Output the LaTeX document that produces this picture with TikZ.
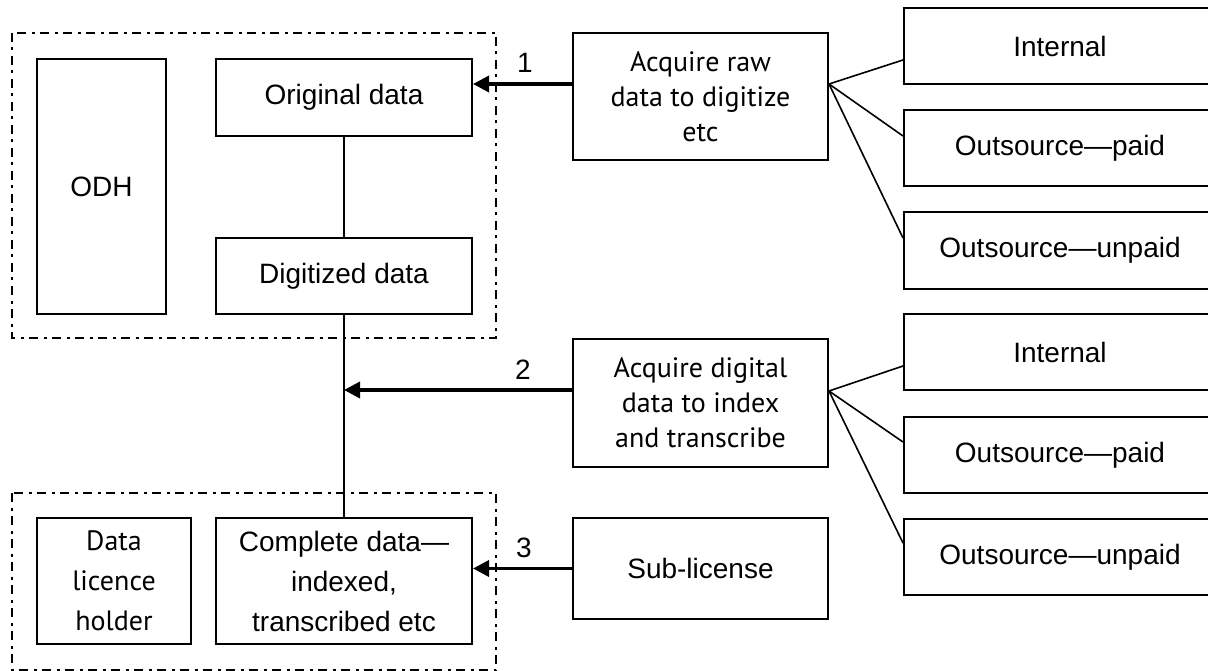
\documentclass[tikz,border=0pt]{standalone}
\usepackage{fontspec}
\setmainfont{Liberation Sans}
\newfontfamily\myrfont{PT Sans}
\usetikzlibrary{arrows.meta}
\newcommand\fArial{\fontsize{28}{40}\selectfont}
\newcommand\fMyr{\myrfont\fontsize{28}{35}\selectfont}
\tikzset{
  box/.style={draw, line width=2pt, inner sep=0pt, align=center, font=\fArial},
  mbox/.style={box, font=\fMyr},
  rbox/.style={box, minimum width=312pt, minimum height=76pt},
  group/.style={line width=2.8pt, dash pattern=on 9pt off 5.5pt on 3pt off 5.5pt},
  link/.style={line width=1.6pt},
  feed/.style={line width=3.5pt, -{Triangle[length=16pt,width=16pt]}},
  lbl/.style={font=\fArial, inner sep=0pt}
}
\begin{document}
\begin{tikzpicture}[x=1pt,y=-1pt]
\useasboundingbox (0,0) rectangle (1208,671);
\clip (0,0) rectangle (1208,671);
% groups
\draw[group] (12,33) rectangle (496,338);
\draw[group] (12,493) rectangle (496,670);
% left boxes
\node[box, minimum width=129pt, minimum height=255pt] (odh) at (101.5,186.5) {ODH};
\node[box, minimum width=256pt, minimum height=77pt] (orig) at (344,97.5) {Original data};
\node[box, minimum width=256pt, minimum height=76pt] (dig) at (344,276) {Digitized data};
\node[mbox, minimum width=154pt, minimum height=126pt, font={\myrfont\fontsize{28}{40}\selectfont}] (dlh) at (114,581) {Data\\licence\\holder};
\node[box, minimum width=256pt, minimum height=126pt] (comp) at (344,581) {Complete data—\\indexed,\\transcribed etc};
% middle boxes
\node[mbox, minimum width=255pt, minimum height=127pt] (acq1) at (700.5,96.5) {Acquire raw\\data to digitize\\etc};
\node[mbox, minimum width=255pt, minimum height=128pt] (acq2) at (700.5,403) {Acquire digital\\data to index\\and transcribe};
\node[box, minimum width=255pt, minimum height=101pt] (sub) at (700.5,568.5) {Sub-license};
% right boxes
\node[rbox] (int1) at (1060,46.5) {Internal};
\node[rbox] (paid1) at (1060,148) {Outsource—paid};
\node[rbox, minimum height=77pt] (unp1) at (1060,250.5) {Outsource—unpaid};
\node[rbox] (int2) at (1060,352) {Internal};
\node[rbox] (paid2) at (1060,455) {Outsource—paid};
\node[rbox] (unp2) at (1060,557) {Outsource—unpaid};
% vertical chain
\draw[link] (orig.south) -- (dig.north);
\draw[link] (dig.south) -- (comp.north);
% feeds
\coordinate (s1) at ([yshift=12.5pt]acq1.west);
\coordinate (s2) at ([yshift=13pt]acq2.west);
\draw[feed] (s1) -- (orig.east |- s1);
\draw[feed] (s2) -- (dig.south |- s2);
\draw[feed] (sub.west) -- (comp.east |- sub.west);
\node[lbl] (l1) at (525,63) {1};
\node[lbl] (l2) at (523,370) {2};
\node[lbl] (l3) at (524,548) {3};
% fans
\coordinate (o1) at ([yshift=12.5pt]acq1.east);
\coordinate (o2) at ([yshift=12pt]acq2.east);
\draw[link] (o1) -- ([yshift=-13.5pt]int1.west);
\draw[link] (o1) -- ([yshift=12pt]paid1.west);
\draw[link] (o1) -- ([yshift=12.5pt]unp1.west);
\draw[link] (o2) -- ([yshift=-14pt]int2.west);
\draw[link] (o2) -- ([yshift=13pt]paid2.west);
\draw[link] (o2) -- ([yshift=14pt]unp2.west);
\end{tikzpicture}
\end{document}
